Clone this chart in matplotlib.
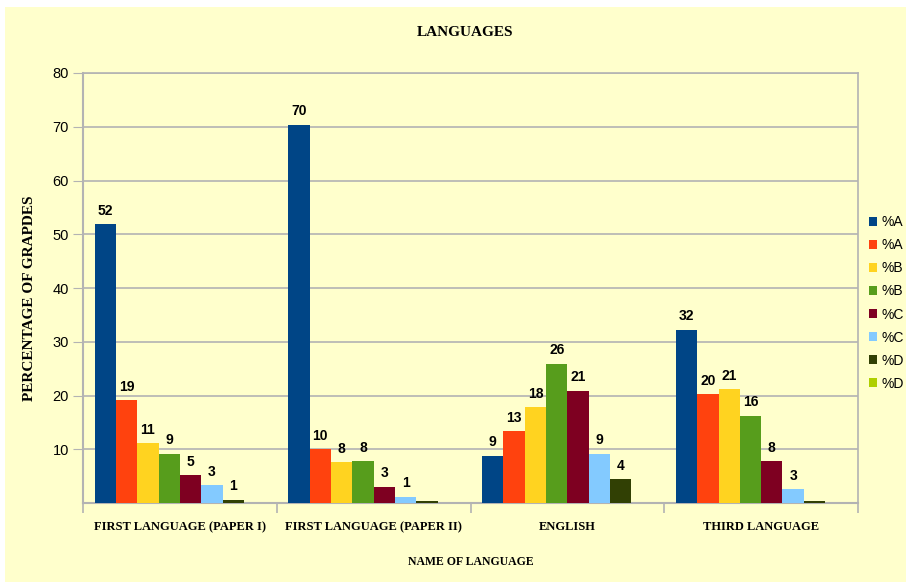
import matplotlib.pyplot as plt
import numpy as np
from matplotlib.patches import Rectangle

# ------------------ data ------------------
categories = ["FIRST LANGUAGE (PAPER I)", "FIRST LANGUAGE (PAPER II)", "ENGLISH", "THIRD LANGUAGE"]
# legend labels as they show in the reference (cut short by the chart edge)
series_names = ["%A", "%A", "%B", "%B", "%C", "%C", "%D", "%D"]
a1 = [51.9, 70.4, 8.8, 32.2]
a2 = [19.1, 10.0, 13.4, 20.2]
b1 = [11.1, 7.6, 17.8, 21.2]
b2 = [9.2, 7.8, 25.9, 16.2]
c1 = [5.2, 3.0, 20.9, 7.8]
c2 = [3.3, 1.2, 9.2, 2.6]
d1 = [0.6, 0.4, 4.4, 0.3]
d2 = [0.0, 0.0, 0.0, 0.0]
colors = ["#004586", "#ff420e", "#ffd320", "#579d1c", "#7e0021", "#83caff", "#314004", "#aecf00"]

all_series = [a1, a2, b1, b2, c1, c2, d1, d2]

# ------------------ figure ------------------
fig = plt.figure(figsize=(9.06, 5.85), dpi=100)
fig.patches.append(Rectangle((5 / 906, 3 / 585), 1, 575 / 585, transform=fig.transFigure,
                             facecolor="#ffffcc", edgecolor="none", zorder=-5))
ax = fig.add_axes([83 / 906, 82 / 585, 775 / 906, 430 / 585])
ax.set_facecolor("#ffffcc")

x = np.arange(len(categories))
width = 0.11
grid_c = "#b3b3b3"
num_fam = ["Liberation Sans", "DejaVu Sans"]
txt_font = dict(family=["Liberation Serif", "DejaVu Serif"], fontweight="bold")

for i, (vals, name, col) in enumerate(zip(all_series, series_names, colors)):
    pos = x + (i - 3.5) * width
    ax.bar(pos, vals, width, color=col, label=name, zorder=3)
    for px, v in zip(pos, vals):
        if v >= 0.5:
            ax.text(px, v + 1.2, str(int(round(v))), ha="center", va="bottom",
                    fontsize=10, color="black", family=num_fam, fontweight="bold")

ax.set_xlim(-0.5, 3.5)
ax.set_ylim(0, 80)
ax.set_yticks(range(10, 90, 10))
ax.set_yticklabels([str(t) for t in range(10, 90, 10)], fontsize=10.5, family=num_fam)
ax.yaxis.grid(True, color=grid_c, linewidth=1.2, zorder=0)
ax.set_axisbelow(True)
ax.tick_params(axis="y", length=7, color=grid_c, pad=3)

ax.set_xticks(x)
ax.set_xticklabels(categories, fontsize=9, **txt_font)
ax.set_xticks(np.arange(-0.5, 4, 1), minor=True)
ax.tick_params(axis="x", which="major", length=0, pad=13)
ax.tick_params(axis="x", which="minor", length=7, color=grid_c, width=1.2)

for side in ["top", "right"]:
    ax.spines[side].set_color(grid_c)
    ax.spines[side].set_linewidth(1.2)
for side in ["left", "bottom"]:
    ax.spines[side].set_color(grid_c)
    ax.spines[side].set_linewidth(1.5)

ax.set_xlabel("NAME OF LANGUAGE", fontsize=8.5, va="center", **txt_font)
ax.xaxis.set_label_coords(0.5, -59 / 430)
ax.set_ylabel("PERCENTAGE OF GRAPDES", fontsize=11, va="center", **txt_font)
ax.yaxis.set_label_coords(-53 / 775, 205 / 430)
fig.text(465 / 906, 1 - 32 / 585, "LANGUAGES", ha="center", va="center", fontsize=11, **txt_font)

fig.legend(loc="center left", bbox_to_anchor=(862 / 906, 1 - 303 / 585), frameon=False,
           handlelength=0.6, handleheight=0.6, handletextpad=0.3,
           labelspacing=0.65, borderpad=0, prop={"family": num_fam, "size": 10})

fig.savefig("out.png", dpi=100)
